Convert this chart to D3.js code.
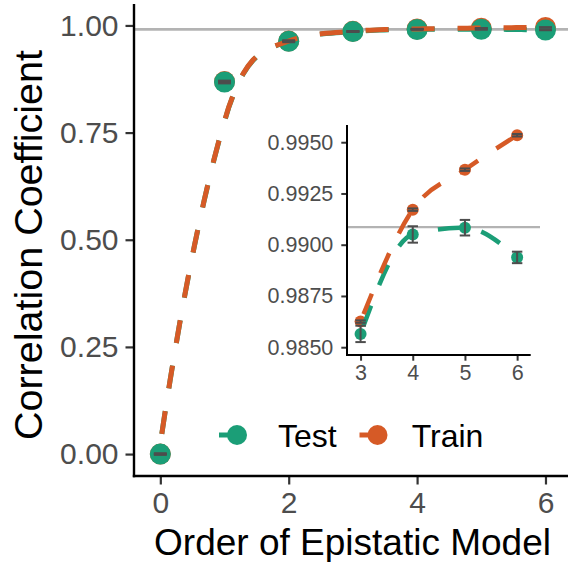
<!DOCTYPE html>
<html><head><meta charset="utf-8">
<script src="https://cdn.jsdelivr.net/npm/d3@7"></script>
<style>html,body{margin:0;padding:0;background:#fff;} svg{display:block;font-family:"Liberation Sans",Arial,Helvetica,sans-serif;}</style>
</head><body><svg id="c" width="568" height="562"></svg>
<script>
// ---- data ----
const orders = [0, 1, 2, 3, 4, 5, 6];
const testValues  = [0.000, 0.868, 0.963, 0.98565, 0.9905, 0.99083, 0.98938];
const testErrors  = [0.0015, 0.003, 0.002, 0.0004, 0.0004, 0.00038, 0.00028];
const trainValues = [0.000, 0.869, 0.9635, 0.98625, 0.99171, 0.99366, 0.99534];
const trainErrors = [0.0008, 0.001, 0.0005, 0.00006, 0.00006, 0.00006, 0.00006];
const insetOrders = [3, 4, 5, 6];
const referenceLevel = 0.99086;
const mainYTicks = [0, 0.25, 0.5, 0.75, 1];
const mainXTicks = [0, 2, 4, 6];
const insetYTicks = [0.985, 0.9875, 0.99, 0.9925, 0.995];
const insetXTicks = [3, 4, 5, 6];
const seriesNames = ["Test", "Train"];
const seriesColors = ["#1b9e77", "#d65a26"];

const series = [
  {name: seriesNames[0], color: seriesColors[0], vals: testValues, errs: testErrors},
  {name: seriesNames[1], color: seriesColors[1], vals: trainValues, errs: trainErrors}
];

// ---- loess smoother (local quadratic, tricube weights, kd-vertex Hermite interpolation) ----
function localFit(xs, ys, span, x0) {
  const n = xs.length, q = Math.floor(n * span);
  const d = xs.map(v => Math.abs(v - x0));
  const h = d.slice().sort((a, b) => a - b)[q - 1];
  const S = [0,0,0,0,0], T = [0,0,0];
  for (let i = 0; i < n; i++) {
    if (d[i] >= h) continue;
    const r = d[i] / h, w = Math.pow(1 - r*r*r, 3), u = xs[i] - x0;
    let p = 1;
    for (let k = 0; k < 5; k++) { S[k] += w * p; if (k < 3) T[k] += w * p * ys[i]; p *= u; }
  }
  const det3 = m => m[0][0]*(m[1][1]*m[2][2]-m[1][2]*m[2][1]) - m[0][1]*(m[1][0]*m[2][2]-m[1][2]*m[2][0]) + m[0][2]*(m[1][0]*m[2][1]-m[1][1]*m[2][0]);
  const M = [[S[0],S[1],S[2]],[S[1],S[2],S[3]],[S[2],S[3],S[4]]];
  const D = det3(M);
  if (Math.abs(D) > 1e-12) {
    const a = det3([[T[0],S[1],S[2]],[T[1],S[2],S[3]],[T[2],S[3],S[4]]]) / D;
    const b = det3([[S[0],T[0],S[2]],[S[1],T[1],S[3]],[S[2],T[2],S[4]]]) / D;
    return [a, b];
  }
  const D2 = S[0]*S[2] - S[1]*S[1];
  return [(T[0]*S[2] - S[1]*T[1]) / D2, (S[0]*T[1] - S[1]*T[0]) / D2];
}
function kdVertices(xs, span) {
  const pts = xs.slice().sort((a, b) => a - b);
  const lo0 = pts[0], hi0 = pts[pts.length - 1];
  const mu = 0.005 * (hi0 - lo0);
  const fc = Math.floor(xs.length * span * 0.2);
  const verts = [lo0 - mu, hi0 + mu];
  (function split(lo, hi, p) {
    if (p.length <= fc) return;
    const v = p[Math.floor((p.length - 1) / 2)];
    if (v === lo || v === hi) return;
    verts.push(v);
    const idx = p.indexOf(v);
    split(lo, v, p.slice(0, idx + 1));
    split(v, hi, p.slice(idx + 1));
  })(lo0 - mu, hi0 + mu, pts);
  return verts.sort((a, b) => a - b);
}
function loessCurve(xs, ys, span, evalAt) {
  const verts = kdVertices(xs, span);
  const fits = verts.map(v => localFit(xs, ys, span, v));
  return evalAt.map(x0 => {
    let j = 0;
    while (j < verts.length - 2 && x0 > verts[j + 1]) j++;
    const x1 = verts[j], x2 = verts[j + 1], hh = x2 - x1;
    const t = (x0 - x1) / hh;
    const h00 = 2*t*t*t - 3*t*t + 1, h10 = t*t*t - 2*t*t + t, h01 = -2*t*t*t + 3*t*t, h11 = t*t*t - t*t;
    return [x0, h00*fits[j][0] + h10*hh*fits[j][1] + h01*fits[j+1][0] + h11*hh*fits[j+1][1]];
  });
}

const svg = d3.select("#c");
const font = '"Liberation Sans",Arial,Helvetica,sans-serif';

// ---- main panel scales ----
const x = d3.scaleLinear().domain([-0.41, 6.41]).range([134, 571.8]);
const y = d3.scaleLinear().domain([-0.05, 1.05]).range([475.5, 4.0]);

const main = svg.append("g");
main.append("line").attr("x1", 134).attr("x2", 568)
  .attr("y1", y(referenceLevel)).attr("y2", y(referenceLevel))
  .attr("stroke", "#b3b3b3").attr("stroke-width", 2.6);

[series[1], series[0]].forEach(s => {
  main.append("g").selectAll("circle").data(orders).join("circle")
    .attr("cx", d => x(d)).attr("cy", (d, i) => y(s.vals[i])).attr("r", 10.5)
    .attr("fill", s.color);
});

const evalX = d3.range(80).map(i => i * 6 / 79);
const lineMain = d3.line().x(d => x(d[0])).y(d => y(d[1]));
series.forEach(s => {
  const pts = loessCurve(orders, s.vals, 0.75, evalX);
  main.append("path").attr("d", lineMain(pts)).attr("fill", "none")
    .attr("stroke", s.color).attr("stroke-width", 5)
    .attr("stroke-dasharray", "23,23").attr("stroke-dashoffset", 36);
});

function errorBars(g, xs, s, sx, sy, halfW, sw, offset) {
  xs.forEach((o, j) => {
    const i = offset + j;
    const lo = sy(s.vals[i] - s.errs[i]), hi = sy(s.vals[i] + s.errs[i]);
    const cx = sx(o);
    g.append("line").attr("x1", cx).attr("x2", cx).attr("y1", lo).attr("y2", hi).attr("stroke", "#4d4d4d").attr("stroke-width", sw);
    g.append("line").attr("x1", sx(o - halfW)).attr("x2", sx(o + halfW)).attr("y1", lo).attr("y2", lo).attr("stroke", "#4d4d4d").attr("stroke-width", sw);
    g.append("line").attr("x1", sx(o - halfW)).attr("x2", sx(o + halfW)).attr("y1", hi).attr("y2", hi).attr("stroke", "#4d4d4d").attr("stroke-width", sw);
  });
}
errorBars(main, orders, series[1], x, y, 0.1, 2.2, 0);
errorBars(main, orders, series[0], x, y, 0.1, 2.2, 0);

const yAxis = main.append("g").attr("transform", "translate(134,0)")
  .call(d3.axisLeft(y).tickValues(mainYTicks).tickFormat(d3.format(".2f")).tickSize(8.5).tickSizeOuter(0).tickPadding(7));
const xAxis = main.append("g").attr("transform", "translate(0,476)")
  .call(d3.axisBottom(x).tickValues(mainXTicks).tickFormat(d3.format("d")).tickSize(8.5).tickSizeOuter(0).tickPadding(7));
[yAxis, xAxis].forEach(a => {
  a.select(".domain").remove();
  a.selectAll(".tick line").attr("stroke", "#333").attr("stroke-width", 2.2);
  a.selectAll(".tick text").attr("fill", "#4d4d4d").style("font-size", "30px").style("font-family", font);
});
main.append("line").attr("x1", 134).attr("x2", 134).attr("y1", 4).attr("y2", 477.2).attr("stroke", "#000").attr("stroke-width", 2.4);
main.append("line").attr("x1", 132.8).attr("x2", 568).attr("y1", 476).attr("y2", 476).attr("stroke", "#000").attr("stroke-width", 2.4);

svg.append("text").attr("x", 352.5).attr("y", 555).attr("text-anchor", "middle")
  .style("font-size", "37px").style("font-family", font).attr("fill", "#000").text("Order of Epistatic Model");
svg.append("text").attr("transform", "translate(42,245) rotate(-90)").attr("text-anchor", "middle")
  .style("font-size", "39.5px").style("font-family", font).attr("fill", "#000").text("Correlation Coefficient");

// ---- inset ----
const xi = d3.scaleLinear().domain([2.74, 6.26]).range([347, 530.7]);
const yi = d3.scaleLinear().domain([0.98462, 0.99584]).range([355, 125]);
const inset = svg.append("g");
inset.append("line").attr("x1", 347).attr("x2", 540)
  .attr("y1", yi(referenceLevel)).attr("y2", yi(referenceLevel))
  .attr("stroke", "#b3b3b3").attr("stroke-width", 2.2);
[series[1], series[0]].forEach(s => {
  inset.append("g").selectAll("circle").data(insetOrders).join("circle")
    .attr("cx", d => xi(d)).attr("cy", (d, j) => yi(s.vals[3 + j])).attr("r", 6)
    .attr("fill", s.color);
});
const lineIn = d3.line().x(d => xi(d[0])).y(d => yi(d[1])).curve(d3.curveMonotoneX);
series.forEach(s => {
  const pts = insetOrders.map((o, j) => [o, s.vals[3 + j]]);
  inset.append("path").attr("d", lineIn(pts)).attr("fill", "none")
    .attr("stroke", s.color).attr("stroke-width", 4.5)
    .attr("stroke-dasharray", "22,22").attr("stroke-dashoffset", 36);
});
errorBars(inset, insetOrders, series[1], xi, yi, 0.1, 2, 3);
errorBars(inset, insetOrders, series[0], xi, yi, 0.1, 2, 3);

const yAxI = inset.append("g").attr("transform", "translate(347,0)")
  .call(d3.axisLeft(yi).tickValues(insetYTicks).tickFormat(d3.format(".4f")).tickSize(5.7).tickSizeOuter(0).tickPadding(8));
const xAxI = inset.append("g").attr("transform", "translate(0,355)")
  .call(d3.axisBottom(xi).tickValues(insetXTicks).tickFormat(d3.format("d")).tickSize(5.7).tickSizeOuter(0).tickPadding(4.5));
[yAxI, xAxI].forEach(a => {
  a.select(".domain").remove();
  a.selectAll(".tick line").attr("stroke", "#333").attr("stroke-width", 2);
  a.selectAll(".tick text").attr("fill", "#4d4d4d").style("font-size", "21.5px").style("font-family", font);
});
inset.append("line").attr("x1", 347).attr("x2", 347).attr("y1", 125).attr("y2", 356).attr("stroke", "#000").attr("stroke-width", 2);
inset.append("line").attr("x1", 346).attr("x2", 530.7).attr("y1", 355).attr("y2", 355).attr("stroke", "#000").attr("stroke-width", 2);

// ---- legend ----
const legendX = [219, 359.5];
const legendTextX = [278, 411.7];
series.forEach((s, i) => {
  const g = svg.append("g");
  g.append("line").attr("x1", legendX[i]).attr("x2", legendX[i] + 18).attr("y1", 435).attr("y2", 435)
    .attr("stroke", s.color).attr("stroke-width", 5);
  g.append("circle").attr("cx", legendX[i] + 18).attr("cy", 435).attr("r", 10).attr("fill", s.color);
  g.append("text").attr("x", legendTextX[i]).attr("y", 447).style("font-size", "32px")
    .style("font-family", font).attr("fill", "#000").text(s.name);
});
</script></body></html>
